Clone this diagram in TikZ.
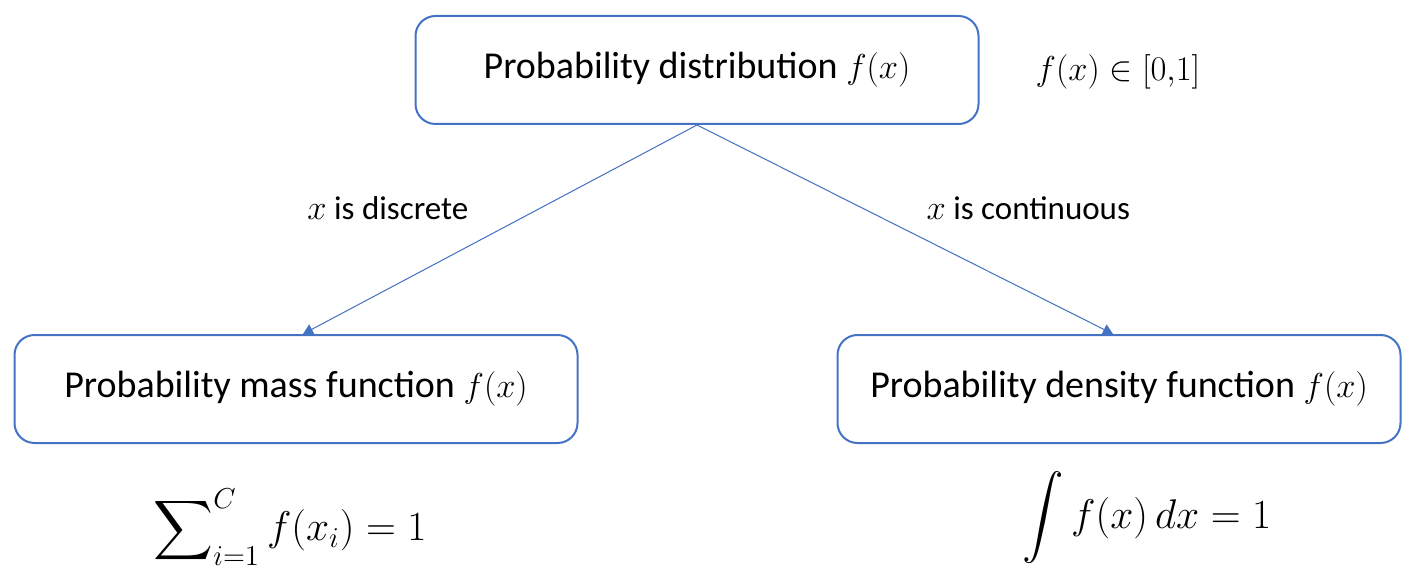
\documentclass[tikz,border=0pt]{standalone}
\usepackage{amsmath}
\usepackage{fontspec}
\setmainfont{Carlito}
\usetikzlibrary{arrows.meta,positioning}
\definecolor{officeblue}{HTML}{4472C4}

\begin{document}
\begin{tikzpicture}[x=0.5pt,y=-0.5pt,>={Triangle[width=5.5pt,length=5pt]}]
  \tikzstyle{box}=[draw=officeblue,rounded corners=10pt,line width=1pt,align=center,minimum width=281.5pt,minimum height=54pt,font=\fontsize{19}{23}\selectfont]
  \tikzstyle{edge}=[draw=officeblue,line width=0.5pt,->,fill=officeblue]
  \tikzstyle{lbl}=[font=\fontsize{16.5}{19}\selectfont]
  \tikzstyle{formula}=[font=\fontsize{20}{24}\selectfont]
  \useasboundingbox (0,0) rectangle (1416,587);
  \node[box] (dist) at (697,70) {Probability distribution $f(x)$};
  \node[box] (pmf) at (296,389) {Probability mass function $f(x)$};
  \node[box] (pdf) at (1119,389) {Probability density function $f(x)$};
  \node[formula,font=\fontsize{18.5}{22}\selectfont] (range) at (1118,72) {$f(x)\in[0{,}1]$};
  \draw[edge] (dist.south) -- ([xshift=3.5pt]pmf.north) node[lbl,pos=0.4,left=32pt] {$x$ is discrete};
  \draw[edge] (dist.south) -- ([xshift=-3pt]pdf.north) node[lbl,pos=0.4,right=28pt] {$x$ is continuous};
  \node[formula] (sum) at (290,527) {$\displaystyle\sum\nolimits_{i=1}^{C} f(x_i)=1$};
  \node[formula] (int) at (1147,518) {$\displaystyle\int f(x)\,dx=1$};
\end{tikzpicture}
\end{document}
